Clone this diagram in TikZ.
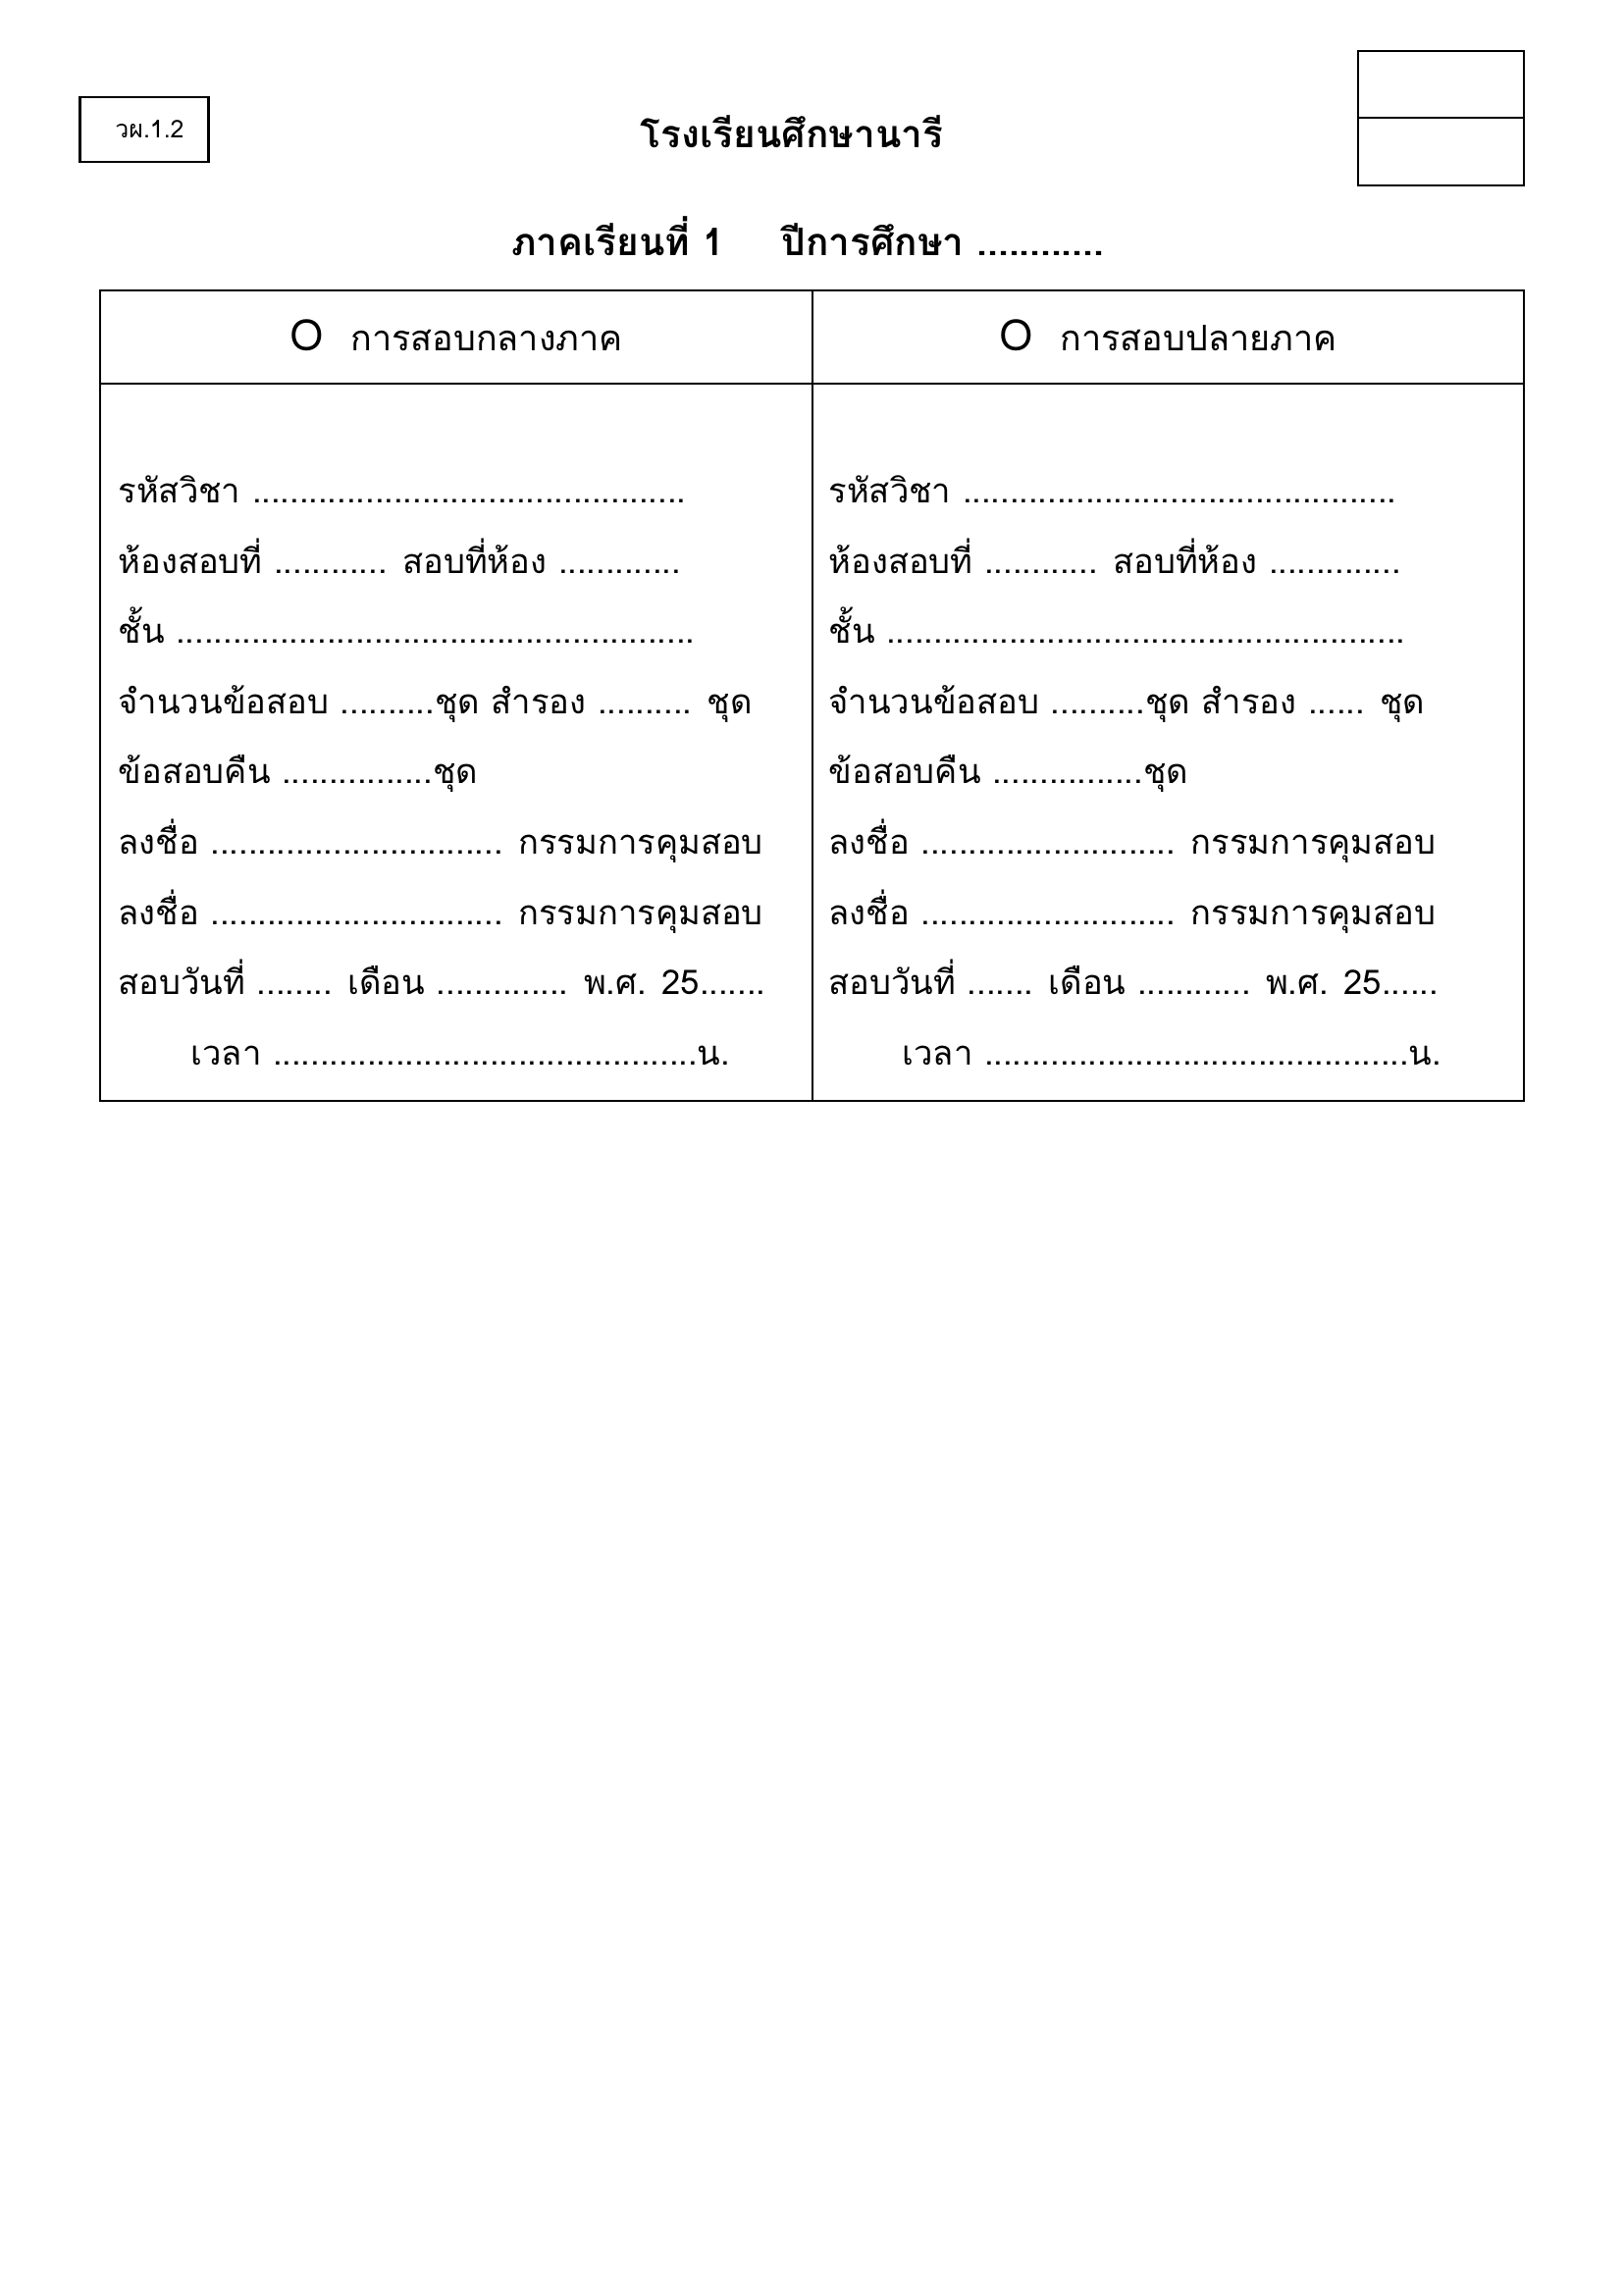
\documentclass[tikz,border=0pt]{standalone}
\usepackage{fontspec}
\setmainfont[Script=Thai]{Loma}
\usepackage{tikz}
\usetikzlibrary{positioning}

\begin{document}
\begin{tikzpicture}[x=0.127mm, y=-0.127mm, font=\fontsize{12.5}{15}\selectfont,
    cell/.style={draw, line width=0.9pt, inner sep=0pt},
    row/.style={anchor=base west, inner sep=0pt},
    head/.style={font=\fontsize{13}{15}\selectfont}]
  \useasboundingbox (0,0) rectangle (1654,2339);
  % heading
  \node[cell, minimum width=16.64mm, minimum height=8.38mm,
        font=\fontsize{9}{11}\selectfont] (code) at (147,132) {\hspace{1.4mm}วผ.1.2};
  \node[cell, minimum width=21.46mm, minimum height=8.64mm] (stampA) at (1468.5,86) {};
  \node[cell, minimum width=21.46mm, minimum height=8.76mm] (stampB) at (1468.5,154.5) {};
  \node[anchor=base, font=\bfseries\fontsize{14}{16}\selectfont] (school) at (807,151)
    {โรงเรียนศึกษานารี};
  \node[anchor=base, font=\bfseries\fontsize{14}{16}\selectfont] (term) at (823,261)
    {ภาคเรียนที่ 1\hspace{7.5mm}ปีการศึกษา ............};
  % table
  \node[cell, minimum width=92.2mm, minimum height=12.07mm] (hdL) at (465,343.5) {};
  \node[cell, minimum width=92.08mm, minimum height=12.07mm] (hdR) at (1190.5,343.5) {};
  \node[cell, minimum width=92.2mm, minimum height=92.84mm] (bdL) at (465,756.5) {};
  \node[cell, minimum width=92.08mm, minimum height=92.84mm] (bdR) at (1190.5,756.5) {};
  \node[head, anchor=base] (midterm) at (465,358)
    {\fontsize{16}{18}\selectfont O\hspace{3.5mm}\fontsize{13}{15}\selectfont การสอบกลางภาค};
  \node[head, anchor=base] (final) at (1190.5,358)
    {\fontsize{16}{18}\selectfont O\hspace{3.5mm}\fontsize{13}{15}\selectfont การสอบปลายภาค};
  % left column
  \node[row] (l1) at (120,513) {รหัสวิชา ..............................................};
  \node[row] (l2) at (120,584.5) {ห้องสอบที่ ............ สอบที่ห้อง .............};
  \node[row] (l3) at (120,656) {ชั้น .......................................................};
  \node[row] (l4) at (120,727.5) {จำนวนข้อสอบ ..........ชุด สำรอง .......... ชุด};
  \node[row] (l5) at (120,799) {ข้อสอบคืน ................ชุด};
  \node[row] (l6) at (120,870.5) {ลงชื่อ ............................... กรรมการคุมสอบ};
  \node[row] (l7) at (120,942) {ลงชื่อ ............................... กรรมการคุมสอบ};
  \node[row] (l8) at (120,1013.5) {สอบวันที่ ........ เดือน .............. พ.ศ. 25.......};
  \node[row] (l9) at (194,1085) {เวลา .............................................น.};
  % right column
  \node[row] (r1) at (844,513) {รหัสวิชา ..............................................};
  \node[row] (r2) at (844,584.5) {ห้องสอบที่ ............ สอบที่ห้อง ..............};
  \node[row] (r3) at (844,656) {ชั้น .......................................................};
  \node[row] (r4) at (844,727.5) {จำนวนข้อสอบ ..........ชุด สำรอง ...... ชุด};
  \node[row] (r5) at (844,799) {ข้อสอบคืน ................ชุด};
  \node[row] (r6) at (844,870.5) {ลงชื่อ ........................... กรรมการคุมสอบ};
  \node[row] (r7) at (844,942) {ลงชื่อ ........................... กรรมการคุมสอบ};
  \node[row] (r8) at (844,1013.5) {สอบวันที่ ....... เดือน ............ พ.ศ. 25......};
  \node[row] (r9) at (919,1085) {เวลา .............................................น.};
\end{tikzpicture}
\end{document}
